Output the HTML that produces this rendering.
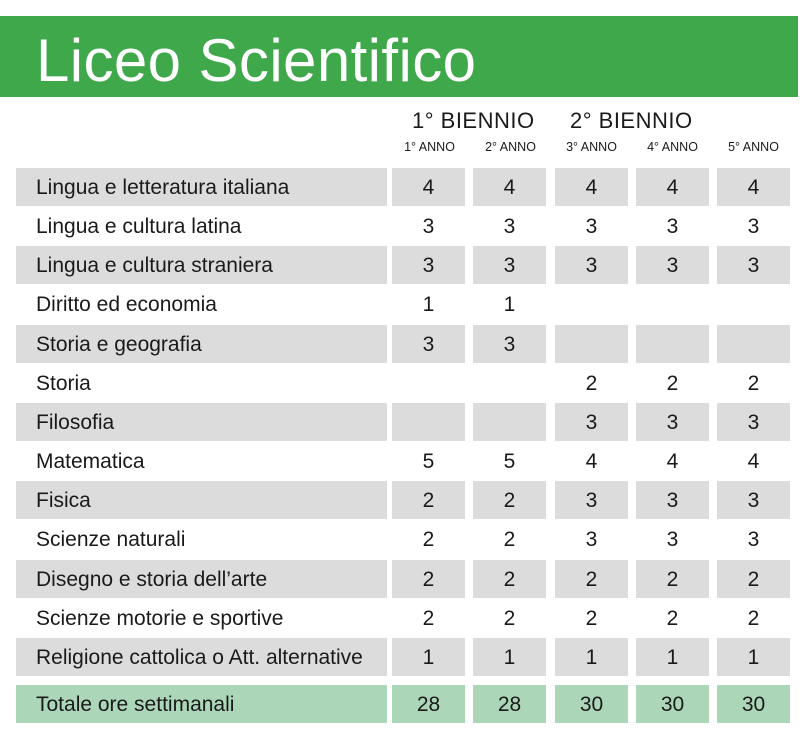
<!DOCTYPE html>
<html><head><meta charset="utf-8"><style>
body{margin:0;width:800px;height:738px;background:#fff;position:relative;overflow:hidden;font-family:"Liberation Sans",sans-serif;color:#1a1a1a}
.ban{position:absolute;left:0;top:16px;width:798px;height:81px;background:#3ea84a}
.ban span{position:absolute;left:36px;top:10px;font-size:60px;color:#fff;letter-spacing:0.4px;white-space:nowrap}
.h{position:absolute;font-size:22px;top:108px;letter-spacing:0.5px}
.a{position:absolute;font-size:12.5px;top:140px;width:73px;text-align:center}
.c{position:absolute;height:38px;line-height:40px;font-size:21px}
.g{background:#dcdcdd}.t{background:#acd6b8}
.l{left:16px;width:351px;padding-left:20px;white-space:nowrap}
.n{width:73px;text-align:center}
</style></head><body>
<div class="ban"><span>Liceo Scientifico</span></div>
<div class="h" style="left:412px">1° BIENNIO</div>
<div class="h" style="left:570px">2° BIENNIO</div>
<div class="a" style="left:393px">1° ANNO</div>
<div class="a" style="left:474px">2° ANNO</div>
<div class="a" style="left:555px">3° ANNO</div>
<div class="a" style="left:636px">4° ANNO</div>
<div class="a" style="left:717px">5° ANNO</div>
<div id="rows"></div>
<script>
var d=[["Lingua e letteratura italiana",4,4,4,4,4],["Lingua e cultura latina",3,3,3,3,3],["Lingua e cultura straniera",3,3,3,3,3],["Diritto ed economia",1,1,"","",""],["Storia e geografia",3,3,"","",""],["Storia","","",2,2,2],["Filosofia","","",3,3,3],["Matematica",5,5,4,4,4],["Fisica",2,2,3,3,3],["Scienze naturali",2,2,3,3,3],["Disegno e storia dell’arte",2,2,2,2,2],["Scienze motorie e sportive",2,2,2,2,2],["Religione cattolica o Att. alternative",1,1,1,1,1],["Totale ore settimanali",28,28,30,30,30]];
var xs=[392,473,555,636,717],h="";
d.forEach(function(r,i){var top=i<13?168+i*39.15:685;var cls=i==13?" t":(i%2==0?" g":"");
h+='<div class="c l'+cls+'" style="top:'+top+'px">'+r[0]+'</div>';
for(var j=0;j<5;j++)h+='<div class="c n'+cls+'" style="top:'+top+'px;left:'+xs[j]+'px">'+r[j+1]+'</div>';});
document.getElementById("rows").innerHTML=h;
</script>
</body></html>
